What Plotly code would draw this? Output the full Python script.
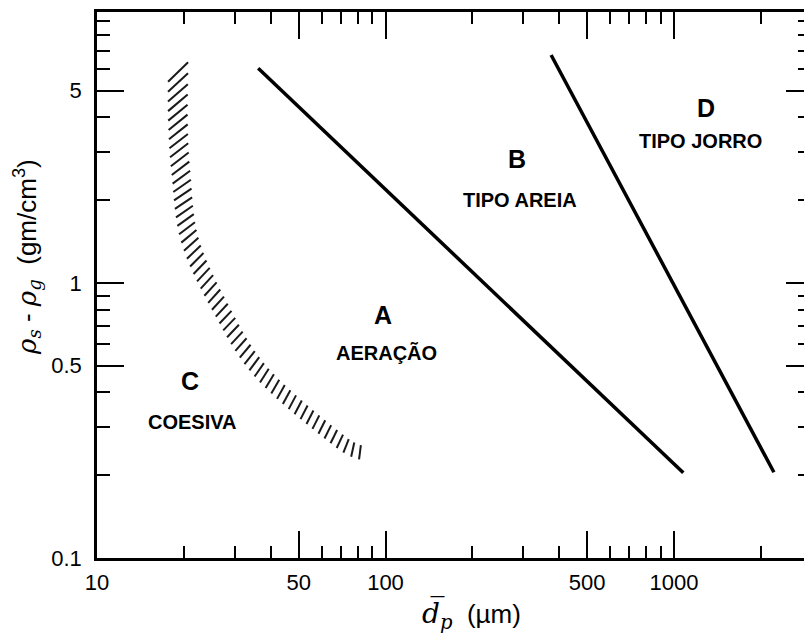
import numpy as np
import plotly.graph_objects as go

# ---- figure geometry -------------------------------------------------------
W_FIG, H_FIG = 804, 635
M_L, M_R, M_T, M_B = 97, 0, 12, 77
X_RANGE = [1.0, 3.4506]    # log10 of particle size (µm)
Y_RANGE = [-1.0, 0.9855]   # log10 of density difference (g/cm3)

# ---- group boundaries (Geldart diagram) -----------------------------------
ab_d = [36.2, 1077]
ab_rho = [6.04, 0.204]
bd_d = [375, 2220]
bd_rho = [6.75, 0.205]

# centre line of the hatched C/A transition band
ca_d = [19.1, 19.1, 19.55, 21.0, 26.7, 37.3, 68.4, 85.0]
ca_rho = [6.0, 3.82, 2.51, 1.43, 0.818, 0.471, 0.269, 0.238]

# ---- region labels ---------------------------------------------------------
group_letters = ["A", "B", "C", "D"]
group_names = ["AERAÇÃO", "TIPO AREIA", "COESIVA", "TIPO JORRO"]
letter_d = [97.9, 285, 21.0, 1291]
letter_rho = [0.765, 2.82, 0.44, 4.33]
name_d = [100.4, 292.6, 21.35, 1231]
name_rho = [0.556, 2.01, 0.311, 3.28]

# ---- ticks -----------------------------------------------------------------
x_major = [10, 50, 100, 500, 1000]
x_major_text = ["10", "50", "100", "500", "1000"]
x_minor = [20, 30, 40, 60, 70, 80, 90, 200, 300, 400, 600, 700, 800, 900, 2000]
y_major = [0.1, 0.5, 1, 5]
y_major_text = ["0.1", "0.5", "1", "5"]
y_minor = [0.2, 0.3, 0.4, 0.6, 0.7, 0.8, 0.9, 2, 3, 4, 6, 7, 8, 9]

SANS = "Liberation Sans, Arial, sans-serif"
SERIF = "DejaVu Serif, serif"

# ---- hatch strokes along the C/A band -------------------------------------
plot_w = W_FIG - M_L - M_R
plot_h = H_FIG - M_T - M_B
px_x = plot_w / (X_RANGE[1] - X_RANGE[0])
px_y = plot_h / (Y_RANGE[1] - Y_RANGE[0])

pts = np.column_stack([np.log10(ca_d) * px_x, np.log10(ca_rho) * px_y])
ext = np.vstack([2 * pts[0] - pts[1], pts, 2 * pts[-1] - pts[-2]])
curve = []
for i in range(1, len(ext) - 2):
    p0, p1, p2, p3 = ext[i - 1], ext[i], ext[i + 1], ext[i + 2]
    for t in np.linspace(0, 1, 60, endpoint=False):
        curve.append(0.5 * (2 * p1 + (-p0 + p2) * t
                            + (2 * p0 - 5 * p1 + 4 * p2 - p3) * t * t
                            + (-p0 + 3 * p1 - 3 * p2 + p3) * t ** 3))
curve.append(pts[-1])
curve = np.array(curve)
arc = np.concatenate([[0], np.cumsum(np.hypot(*np.diff(curve, axis=0).T))])
total = arc[-1]


def at(pos):
    return np.array([np.interp(pos, arc, curve[:, 0]), np.interp(pos, arc, curve[:, 1])])


hx, hy = [], []
pos = 3.0
while pos < total - 1:
    frac = pos / total
    alpha = np.radians(12 + 33 * (1 - frac) ** 2)
    width = 20 - 6 * frac
    c = at(pos)
    tan = at(min(pos + 2, total)) - at(max(pos - 2, 0))
    tan = tan / np.hypot(*tan)
    nrm = np.array([-tan[1], tan[0]])
    direc = np.cos(alpha) * nrm - np.sin(alpha) * tan
    half = 0.5 * width / np.cos(alpha)
    for e in (c - half * direc, c + half * direc):
        hx.append(10 ** (e[0] / px_x))
        hy.append(10 ** (e[1] / px_y))
    hx.append(None)
    hy.append(None)
    pos += 7.5 / np.cos(alpha)

# ---- figure ----------------------------------------------------------------
fig = go.Figure()
fig.add_trace(go.Scatter(x=hx, y=hy, mode="lines",
                         line=dict(color="#1a1a1a", width=2), hoverinfo="skip"))
for dd, rr in ((ab_d, ab_rho), (bd_d, bd_rho)):
    fig.add_trace(go.Scatter(x=dd, y=rr, mode="lines",
                             line=dict(color="black", width=3.5), hoverinfo="skip"))
# carrier for the right-hand tick axis
fig.add_trace(go.Scatter(x=[None], y=[None], yaxis="y2", mode="lines", hoverinfo="skip"))

for lt, ld, lr in zip(group_letters, letter_d, letter_rho):
    fig.add_annotation(x=np.log10(ld), y=np.log10(lr), text=f"<b>{lt}</b>", showarrow=False,
                       font=dict(family=SANS, size=25, color="black"),
                       xanchor="center", yanchor="middle")
for nt, nd, nr in zip(group_names, name_d, name_rho):
    fig.add_annotation(x=np.log10(nd), y=np.log10(nr), text=f"<b>{nt}</b>", showarrow=False,
                       font=dict(family=SANS, size=20, color="black"),
                       xanchor="center", yanchor="middle")

# axis titles
fig.add_annotation(
    xref="paper", yref="paper", x=-0.100, y=0.552, textangle=-90, showarrow=False,
    xanchor="center", yanchor="middle",
    text=(f'<span style="font-family:{SERIF}"><i>ρ<sub>s</sub></i></span>'
          f' - <span style="font-family:{SERIF}"><i>ρ<sub>g</sub></i></span>'
          '  (gm/cm<sup>3</sup>)'),
    font=dict(family=SANS, size=26, color="black"))
fig.add_annotation(
    xref="paper", yref="paper", x=0.530, y=-0.104, showarrow=False,
    xanchor="center", yanchor="middle",
    text=(f'<span style="font-family:{SERIF};font-size:28px"><i>d\u0305<sub>p</sub></i></span>'
          '  (µm)'),
    font=dict(family=SANS, size=26, color="black"))

common = dict(type="log", showgrid=False, zeroline=False, ticks="inside",
              tickcolor="black", tickwidth=1.5, ticklen=27,
              tickfont=dict(family=SANS, size=22, color="black"))
fig.update_layout(
    width=W_FIG, height=H_FIG,
    margin=dict(l=M_L, r=M_R, t=M_T, b=M_B, pad=0),
    paper_bgcolor="white", plot_bgcolor="white", showlegend=False,
    xaxis=dict(range=X_RANGE, tickmode="array", tickvals=x_major, ticktext=x_major_text,
               showline=True, linecolor="black", linewidth=2.5, mirror="ticks",
               ticklabelstandoff=3,
               minor=dict(tickmode="array", tickvals=x_minor, ticks="inside", ticklen=12,
                          tickwidth=1.5, tickcolor="black", showgrid=False),
               **common),
    yaxis=dict(range=Y_RANGE, tickmode="array", tickvals=y_major, ticktext=y_major_text,
               showline=True, linecolor="black", linewidth=2.5, mirror=False,
               ticklabelstandoff=8,
               minor=dict(tickmode="array", tickvals=y_minor, ticks="inside", ticklen=13,
                          tickwidth=1.5, tickcolor="black", showgrid=False),
               **common),
    yaxis2=dict(range=Y_RANGE, overlaying="y", side="right", anchor="x",
                tickmode="array", tickvals=y_major, showticklabels=False, showline=False,
                minor=dict(tickmode="array", tickvals=y_minor, ticks="inside", ticklen=6,
                           tickwidth=1.5, tickcolor="black", showgrid=False),
                **{k: v for k, v in common.items() if k != "ticklen"}, ticklen=18),
)

fig.write_html("out.html")
